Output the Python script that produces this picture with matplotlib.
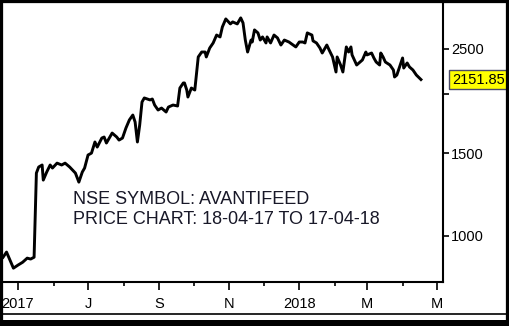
import matplotlib
matplotlib.use("Agg")
import matplotlib.pyplot as plt
from matplotlib.patches import Rectangle
from matplotlib.lines import Line2D
import pandas as pd

plt.rcParams['font.family'] = ['Liberation Sans', 'DejaVu Sans']

dates = ["2017-04-18", "2017-04-21", "2017-04-27", "2017-05-01", "2017-05-05", "2017-05-09",
         "2017-05-12", "2017-05-15", "2017-05-17", "2017-05-19", "2017-05-22", "2017-05-23",
         "2017-05-26", "2017-05-29", "2017-05-31", "2017-06-04", "2017-06-08", "2017-06-11",
         "2017-06-15", "2017-06-20", "2017-06-23", "2017-06-26", "2017-06-28", "2017-07-01",
         "2017-07-04", "2017-07-07", "2017-07-09", "2017-07-13", "2017-07-15", "2017-07-17",
         "2017-07-20", "2017-07-22", "2017-07-26", "2017-07-28", "2017-07-31", "2017-08-03",
         "2017-08-06", "2017-08-09", "2017-08-11", "2017-08-13", "2017-08-15", "2017-08-17",
         "2017-08-19", "2017-08-24", "2017-08-26", "2017-08-28", "2017-08-31", "2017-09-03",
         "2017-09-07", "2017-09-09", "2017-09-13", "2017-09-17", "2017-09-19", "2017-09-22",
         "2017-09-23", "2017-09-25", "2017-09-26", "2017-09-29", "2017-10-02", "2017-10-05",
         "2017-10-08", "2017-10-11", "2017-10-12", "2017-10-15", "2017-10-18", "2017-10-21",
         "2017-10-24", "2017-10-26", "2017-10-29", "2017-11-02", "2017-11-04", "2017-11-08",
         "2017-11-11", "2017-11-13", "2017-11-15", "2017-11-17", "2017-11-20", "2017-11-21",
         "2017-11-23", "2017-11-26", "2017-11-28", "2017-11-30", "2017-12-03", "2017-12-04",
         "2017-12-07", "2017-12-10", "2017-12-13", "2017-12-16", "2017-12-19", "2017-12-23",
         "2017-12-29", "2018-01-01", "2018-01-04", "2018-01-06", "2018-01-08", "2018-01-12",
         "2018-01-13", "2018-01-16", "2018-01-19", "2018-01-21", "2018-01-25", "2018-01-27",
         "2018-01-30", "2018-02-02", "2018-02-03", "2018-02-06", "2018-02-08", "2018-02-11",
         "2018-02-13", "2018-02-15", "2018-02-16", "2018-02-20", "2018-02-22", "2018-02-25",
         "2018-02-28", "2018-03-01", "2018-03-05", "2018-03-07", "2018-03-09", "2018-03-12",
         "2018-03-13", "2018-03-15", "2018-03-17", "2018-03-21", "2018-03-24", "2018-03-25",
         "2018-03-27", "2018-04-01", "2018-04-02", "2018-04-05", "2018-04-07", "2018-04-10",
         "2018-04-13", "2018-04-17"]

prices = [900, 923, 853, 866, 878, 896,
          892, 900, 1360, 1401, 1415, 1314,
          1367, 1415, 1394, 1428, 1415, 1428,
          1401, 1360, 1301, 1367, 1394, 1486,
          1500, 1584, 1545, 1615, 1623, 1576,
          1623, 1655, 1623, 1599, 1615, 1696,
          1765, 1808, 1747, 1584, 1722, 1927,
          1966, 1947, 1956, 1899, 1853, 1871,
          1835, 1880, 1899, 1890, 2064, 2116,
          2116, 2044, 1975, 2064, 2044, 2404,
          2463, 2463, 2404, 2512, 2575, 2677,
          2652, 2785, 2897, 2827, 2855, 2827,
          2912, 2841, 2612, 2463, 2612, 2587,
          2745, 2705, 2612, 2652, 2575, 2652,
          2575, 2677, 2640, 2549, 2612, 2587,
          2525, 2587, 2587, 2575, 2705, 2677,
          2601, 2575, 2512, 2451, 2549, 2488,
          2404, 2233, 2404, 2311, 2233, 2525,
          2463, 2525, 2428, 2311, 2334, 2369,
          2463, 2428, 2451, 2392, 2345, 2311,
          2451, 2404, 2345, 2311, 2255, 2179,
          2200, 2392, 2277, 2334, 2289, 2255,
          2200, 2151.85]

ytick_values = [1000, 1500, 2000, 2500]
ytick_labels = ["1000", "1500", "", "2500"]
xmajor_dates = ["2017-05-01", "2017-07-01", "2017-09-01", "2017-11-01",
                "2018-01-01", "2018-03-01", "2018-05-01"]
xmajor_labels = ["2017", "J", "S", "N", "2018", "M", "M"]
xminor_dates = ["2017-06-01", "2017-08-01", "2017-10-01", "2017-12-01",
                "2018-02-01", "2018-04-01"]
last_price = 2151.85
title_lines = ["NSE SYMBOL: AVANTIFEED", "PRICE CHART: 18-04-17 TO 17-04-18"]

W, H = 509, 326
fig = plt.figure(figsize=(W / 100, H / 100), dpi=100)
fig.patch.set_facecolor('white')

ax_l, ax_r, ax_t, ax_b = 3, 443, 2, 282
ax = fig.add_axes([ax_l / W, (H - ax_b) / H, (ax_r - ax_l) / W, (ax_b - ax_t) / H])
d = pd.to_datetime(dates)
ax.plot(d, prices, color='black', lw=2.1, solid_joinstyle='round')

ax.set_yscale('log')
ax.set_ylim(797, 3148)
ax.set_xlim(pd.Timestamp("2017-04-17 22:00"), pd.Timestamp("2018-05-06 05:00"))

ax.yaxis.tick_right()
ax.set_yticks(ytick_values)
ax.set_yticklabels(ytick_labels)
ax.yaxis.set_minor_locator(matplotlib.ticker.NullLocator())
ax.tick_params(axis='y', which='major', direction='out', length=4, width=1.2,
               labelsize=10.5, pad=2, colors='black')

ax.set_xticks(pd.to_datetime(xmajor_dates))
ax.set_xticklabels(xmajor_labels)
ax.set_xticks(pd.to_datetime(xminor_dates), minor=True)
ax.tick_params(axis='x', which='major', direction='out', length=6, width=1.2,
               labelsize=10.5, pad=5)
ax.tick_params(axis='x', which='minor', direction='out', length=3, width=1.2)

for s in ['right', 'bottom']:
    ax.spines[s].set_linewidth(1.5)
for s in ['top', 'left']:
    ax.spines[s].set_visible(False)

# annotation text
tx = (73 - ax_l) / (ax_r - ax_l)
for i, line in enumerate(title_lines):
    yc = [200, 220][i]
    ax.text(tx, 1 - (yc - ax_t) / (ax_b - ax_t), line,
            transform=ax.transAxes, fontsize=13, color='#181828', va='center', ha='left')

# last price label
ax.annotate(f"{last_price:.2f}", xy=(1.0, last_price),
            xycoords=('axes fraction', 'data'), xytext=(6.5, 0), textcoords='offset points',
            fontsize=10.5, va='center', ha='left', color='black',
            bbox=dict(boxstyle='square,pad=0.2', fc='#ffff00', ec='#4a4a6a', lw=1),
            annotation_clip=False)

# figure frame
fig.add_artist(Line2D([0, 1], [(H - 314) / H, (H - 314) / H], transform=fig.transFigure,
                      color='black', lw=1.2))
fig.patches.append(Rectangle((0, 0), 1, 1, transform=fig.transFigure, fill=False,
                             ec='black', lw=4.5, zorder=10))
fig.patches.append(Rectangle((0, 0), 1, 6 / H, transform=fig.transFigure,
                             fc='black', ec='none', zorder=10))
fig.add_artist(Line2D([0, 1], [(H - 1) / H, (H - 1) / H], transform=fig.transFigure,
                      color='black', lw=1.5))

fig.savefig("out.png", dpi=100)
